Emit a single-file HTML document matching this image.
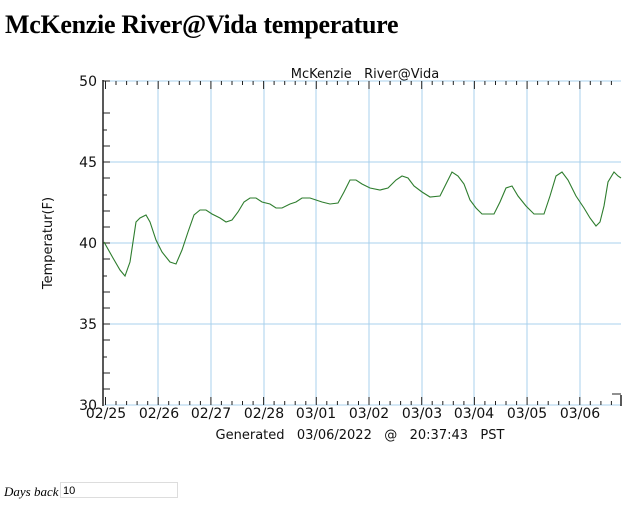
<!DOCTYPE html>
<html><head><meta charset="utf-8"><style>
body{margin:0;background:#fff;width:640px;height:515px;overflow:hidden;position:relative}
h1{position:absolute;left:5px;top:10px;margin:0;font:bold 26px "Liberation Serif",serif;letter-spacing:-0.3px}
.db{position:absolute;left:4px;top:484px;font:italic 13px "Liberation Serif",serif}
.inp{position:absolute;left:60px;top:482px;width:118px;height:16px;border:1px solid #ddd;font:11px "Liberation Sans",sans-serif;line-height:16px;padding-left:2px;box-sizing:border-box}
</style></head><body>
<h1>McKenzie River@Vida temperature</h1>
<svg width="640" height="515" style="position:absolute;left:0;top:0" font-family="DejaVu Sans, sans-serif">
<g stroke="#a8d0ec" stroke-width="1">
<line x1="104" y1="162" x2="621" y2="162"/><line x1="104" y1="243" x2="621" y2="243"/><line x1="104" y1="324" x2="621" y2="324"/>
<line x1="158" y1="81" x2="158" y2="405"/><line x1="211" y1="81" x2="211" y2="405"/><line x1="264" y1="81" x2="264" y2="405"/><line x1="316" y1="81" x2="316" y2="405"/><line x1="369" y1="81" x2="369" y2="405"/><line x1="422" y1="81" x2="422" y2="405"/><line x1="474" y1="81" x2="474" y2="405"/><line x1="527" y1="81" x2="527" y2="405"/><line x1="580" y1="81" x2="580" y2="405"/>
<line x1="104" y1="81" x2="621" y2="81"/><line x1="104" y1="405" x2="621" y2="405"/>
</g>
<line x1="103" y1="80" x2="103" y2="406" stroke="#222" stroke-width="1.5"/>
<line x1="621" y1="395" x2="621" y2="406" stroke="#222" stroke-width="1.5"/>
<line x1="612" y1="394" x2="621" y2="394" stroke="#222"/>
<g stroke="#222" stroke-width="1">
<path d="M103 81h7M103 113h7M103 146h7M103 162h7M103 178h7M103 211h7M103 227h7M103 243h7M103 259h7M103 292h7M103 308h7M103 324h7M103 340h7M103 373h7M103 389h7M103 130h4M103 195h4M103 276h4M103 357h4"/>
<path d="M105.5 81v8M116 81v4M126.6 81v4M137.1 81v4M147.7 81v4M158.2 81v8M168.7 81v4M179.3 81v4M189.8 81v4M200.4 81v4M210.9 81v8M221.4 81v4M232 81v4M242.5 81v4M253.1 81v4M263.6 81v8M274.1 81v4M284.7 81v4M295.2 81v4M305.8 81v4M316.3 81v8M326.8 81v4M337.4 81v4M347.9 81v4M358.5 81v4M369 81v8M379.5 81v4M390.1 81v4M400.6 81v4M411.2 81v4M421.7 81v8M432.2 81v4M442.8 81v4M453.3 81v4M463.9 81v4M474.4 81v8M484.9 81v4M495.5 81v4M506 81v4M516.6 81v4M527.1 81v8M537.6 81v4M548.2 81v4M558.7 81v4M569.3 81v4M579.8 81v8M590.3 81v4M600.9 81v4M611.4 81v4"/>
<path d="M105.5 405v-8M116 405v-4M126.6 405v-4M137.1 405v-4M147.7 405v-4M158.2 405v-8M168.7 405v-4M179.3 405v-4M189.8 405v-4M200.4 405v-4M210.9 405v-8M221.4 405v-4M232 405v-4M242.5 405v-4M253.1 405v-4M263.6 405v-8M274.1 405v-4M284.7 405v-4M295.2 405v-4M305.8 405v-4M316.3 405v-8M326.8 405v-4M337.4 405v-4M347.9 405v-4M358.5 405v-4M369 405v-8M379.5 405v-4M390.1 405v-4M400.6 405v-4M411.2 405v-4M421.7 405v-8M432.2 405v-4M442.8 405v-4M453.3 405v-4M463.9 405v-4M474.4 405v-8M484.9 405v-4M495.5 405v-4M506 405v-4M516.6 405v-4M527.1 405v-8M537.6 405v-4M548.2 405v-4M558.7 405v-4M569.3 405v-4M579.8 405v-8M590.3 405v-4M600.9 405v-4M611.4 405v-4"/>
</g>
<polyline fill="none" stroke="#2e7d2e" stroke-width="1.1" points="104,242 113,258 120,270 125,276 130,262 136,222 140,218 146,215 150,222 156,240 162,252 170,262 176,264 182,250 188,232 194,215 200,210 206,210 212,214 220,218 226,222 232,220 238,212 244,202 250,198 256,198 262,202 270,204 276,208 282,208 290,204 296,202 302,198 310,198 316,200 322,202 330,204 338,203 344,192 350,180 356,180 362,184 370,188 380,190 388,188 396,180 402,176 408,178 414,186 422,192 430,197 440,196 446,184 452,172 458,176 464,184 470,200 476,208 482,214 494,214 500,202 506,188 512,186 518,196 526,206 534,214 544,214 550,196 556,176 562,172 568,180 576,196 584,208 590,218 596,226 600,222 604,206 608,182 614,172 618,176 621,178"/>
<g font-size="14" fill="#111" text-anchor="end">
<text x="97" y="86">50</text><text x="97" y="167">45</text><text x="97" y="248">40</text><text x="97" y="329">35</text><text x="97" y="410">30</text>
</g>
<g font-size="14" fill="#111" text-anchor="middle">
<text x="106" y="418">02/25</text><text x="159" y="418">02/26</text><text x="211" y="418">02/27</text><text x="264" y="418">02/28</text><text x="316" y="418">03/01</text><text x="369" y="418">03/02</text><text x="422" y="418">03/03</text><text x="474" y="418">03/04</text><text x="527" y="418">03/05</text><text x="580" y="418">03/06</text>
</g>
<g font-size="13" fill="#111" text-anchor="middle">
<text x="360" y="439" xml:space="preserve">Generated   03/06/2022   @   20:37:43   PST</text>
<text x="365" y="78" xml:space="preserve">McKenzie   River@Vida</text>
<text transform="translate(52,243) rotate(-90)">Temperatur(F)</text>
</g>
</svg>
<div class="db">Days back</div>
<div class="inp">10</div>
</body></html>
